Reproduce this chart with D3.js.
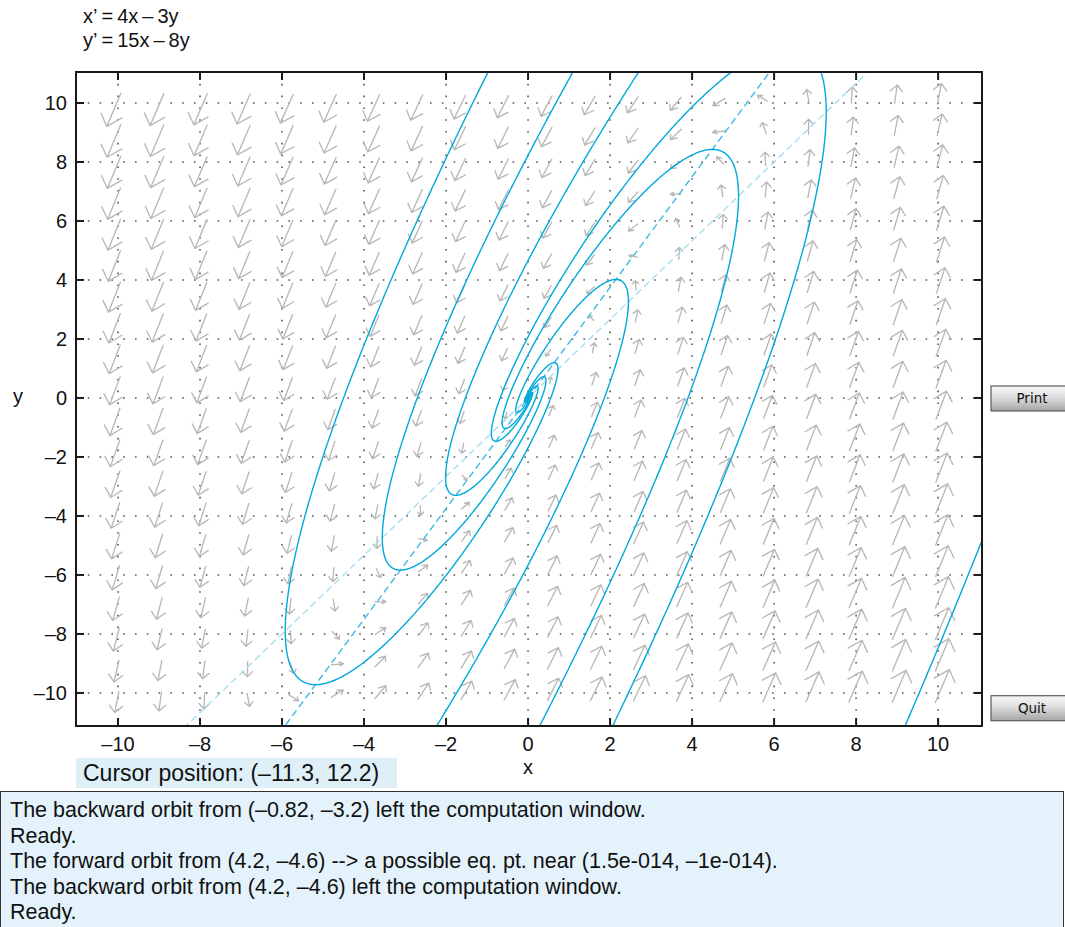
<!DOCTYPE html>
<html><head><meta charset="utf-8">
<script src="https://cdn.jsdelivr.net/npm/d3@7"></script>
<style>
body{margin:0;background:#fff;}
svg{display:block;font-family:"Liberation Sans",Arial,sans-serif;}
</style>
</head><body>
<svg id="chart" width="1065" height="927"></svg>
<script>
// ---- data ----
const coefX = [4, -3];   // x' = 4x - 3y
const coefY = [15, -8];  // y' = 15x - 8y
const equationLines = ["x\u2019\u2009=\u20094x\u2009\u2013\u20093y", "y\u2019\u2009=\u200915x\u2009\u2013\u20098y"];
const xTicks = [-10, -8, -6, -4, -2, 0, 2, 4, 6, 8, 10];
const yTicks = [-10, -8, -6, -4, -2, 0, 2, 4, 6, 8, 10];
const fieldX = [-10, -8.95, -7.89, -6.84, -5.79, -4.74, -3.68, -2.63, -1.58, -0.53, 0.53, 1.58, 2.63, 3.68, 4.74, 5.79, 6.84, 7.89, 8.95, 10];
const fieldY = [-10.1, -9.04, -7.97, -6.91, -5.85, -4.78, -3.72, -2.66, -1.6, -0.53, 0.53, 1.6, 2.66, 3.72, 4.78, 5.85, 6.91, 7.97, 9.04, 10.1];
// initial points of the orbits
const seedX = [-1.0, -3.17, -2.22, 0.29, 4.2, 9.2];
const seedY = [10.98, -5.83, -11.1, -11.1, -4.6, -11.1];
const cursorText = "Cursor position: (\u201311.3, 12.2)";
const messages = [
  "The backward orbit from (\u20130.82, \u20133.2) left the computation window.",
  "Ready.",
  "The forward orbit from (4.2, \u20134.6) --> a possible eq. pt. near (1.5e-014, \u20131e-014).",
  "The backward orbit from (4.2, \u20134.6) left the computation window.",
  "Ready."
];
const buttonLabels = ["Print", "Quit"];
const buttonYs = [0, -10.5];

// ---- layout ----
const svg = d3.select("#chart");
const L = 76, R = 982, T = 72, B = 726;
const x = d3.scaleLinear().domain([-11.024, 11.07]).range([L, R]);
const y = d3.scaleLinear().domain([-11.12, 11.05]).range([B, T]);
const fmt = d => d < 0 ? "\u2013" + Math.abs(d) : String(d);

const defs = svg.append("defs");
defs.append("clipPath").attr("id", "clip").append("rect")
  .attr("x", L).attr("y", T).attr("width", R - L).attr("height", B - T);
const grad = defs.append("linearGradient").attr("id", "btn").attr("x1", 0).attr("y1", 0).attr("x2", 0).attr("y2", 1);
grad.append("stop").attr("offset", "0%").attr("stop-color", "#f7f7f7");
grad.append("stop").attr("offset", "45%").attr("stop-color", "#dedede");
grad.append("stop").attr("offset", "100%").attr("stop-color", "#a4a4a4");

// title equations
svg.selectAll("text.eq").data(equationLines).join("text").attr("class", "eq")
  .attr("x", 83).attr("y", (d, i) => 23 + i * 23.5)
  .attr("font-size", 20).attr("fill", "#111").text(d => d);

// grid
const grid = svg.append("g").attr("stroke", "#555").attr("stroke-width", 1.6).attr("stroke-dasharray", "1.6,10.2");
grid.selectAll("line.gx").data(xTicks).join("line")
  .attr("x1", d => x(d)).attr("x2", d => x(d)).attr("y1", T).attr("y2", B);
grid.selectAll("line.gy").data(yTicks).join("line")
  .attr("y1", d => y(d)).attr("y2", d => y(d)).attr("x1", L).attr("x2", R);

const plot = svg.append("g").attr("clip-path", "url(#clip)");

// direction field arrows
const field = (px, py) => [coefX[0] * px + coefX[1] * py, coefY[0] * px + coefY[1] * py];
const arrowG = plot.append("g").attr("fill", "none").attr("stroke", "#b8b8b8").attr("stroke-width", 1.35)
  .attr("stroke-linecap", "round").attr("stroke-linejoin", "round");
const arrowPts = [];
fieldX.forEach(gx => fieldY.forEach(gy => arrowPts.push([gx, gy])));
const ang = 35 * Math.PI / 180;
arrowG.selectAll("path").data(arrowPts).join("path").attr("d", ([gx, gy]) => {
  const [vx, vy] = field(gx, gy);
  const m = Math.hypot(vx, vy);
  if (m === 0) return null;
  const ux = vx / m, uy = vy / m;
  const len = 0.13 * Math.pow(m, 0.4);
  const tx = gx - 0.2 * len * ux, ty = gy - 0.2 * len * uy;
  const hx = gx + 0.8 * len * ux, hy = gy + 0.8 * len * uy;
  const hl = 0.4 * len;
  const w = s => {
    const c = Math.cos(s * ang), sn = Math.sin(s * ang);
    const bx = -ux, by = -uy;
    return [hx + hl * (bx * c - by * sn), hy + hl * (bx * sn + by * c)];
  };
  const w1 = w(1), w2 = w(-1);
  return `M${x(tx)},${y(ty)}L${x(hx)},${y(hy)}M${x(w1[0])},${y(w1[1])}L${x(hx)},${y(hy)}L${x(w2[0])},${y(w2[1])}`;
});

// nullclines (x'=0 light, y'=0 darker)
const nullLight = [-11.5, 11.5].map(v => [v, -coefX[0] / coefX[1] * v]);
const nullDark = [-11.5, 11.5].map(v => [v, -coefY[0] / coefY[1] * v]);
const line = d3.line().x(d => x(d[0])).y(d => y(d[1]));
plot.append("path").attr("d", line(nullLight)).attr("fill", "none")
  .attr("stroke", "#a9ddf1").attr("stroke-width", 1.4).attr("stroke-dasharray", "7,4");
plot.append("path").attr("d", line(nullDark)).attr("fill", "none")
  .attr("stroke", "#3fb9e4").attr("stroke-width", 1.4).attr("stroke-dasharray", "7,4");

// orbits via RK4 from seeds (forward and backward)
function integrate(x0, y0, dir) {
  const pts = [[x0, y0]];
  let px = x0, py = y0;
  const h = 0.0015 * dir;
  for (let i = 0; i < 6000; i++) {
    const k1 = field(px, py);
    const k2 = field(px + h / 2 * k1[0], py + h / 2 * k1[1]);
    const k3 = field(px + h / 2 * k2[0], py + h / 2 * k2[1]);
    const k4 = field(px + h * k3[0], py + h * k3[1]);
    px += h / 6 * (k1[0] + 2 * k2[0] + 2 * k3[0] + k4[0]);
    py += h / 6 * (k1[1] + 2 * k2[1] + 2 * k3[1] + k4[1]);
    pts.push([px, py]);
    if (Math.abs(px) > 40 || Math.abs(py) > 40) break;
    if (Math.hypot(px, py) < 0.003) break;
  }
  return pts;
}
const orbits = seedX.map((sx, i) => {
  const fwd = integrate(sx, seedY[i], 1);
  const bwd = integrate(sx, seedY[i], -1).reverse();
  return bwd.concat(fwd.slice(1));
});
plot.append("g").selectAll("path").data(orbits).join("path")
  .attr("d", line).attr("fill", "none").attr("stroke", "#00a9db").attr("stroke-width", 1.4);

// frame & ticks
svg.append("rect").attr("x", L).attr("y", T).attr("width", R - L).attr("height", B - T)
  .attr("fill", "none").attr("stroke", "#1a1a1a").attr("stroke-width", 2);
const tk = svg.append("g").attr("stroke", "#1a1a1a").attr("stroke-width", 2);
xTicks.forEach(d => {
  tk.append("line").attr("x1", x(d)).attr("x2", x(d)).attr("y1", B).attr("y2", B - 8);
  tk.append("line").attr("x1", x(d)).attr("x2", x(d)).attr("y1", T).attr("y2", T + 8);
});
yTicks.forEach(d => {
  tk.append("line").attr("y1", y(d)).attr("y2", y(d)).attr("x1", L).attr("x2", L + 8);
  tk.append("line").attr("y1", y(d)).attr("y2", y(d)).attr("x1", R).attr("x2", R - 8);
});
svg.append("g").selectAll("text").data(xTicks).join("text")
  .attr("x", d => x(d)).attr("y", 751).attr("text-anchor", "middle")
  .attr("font-size", 20).attr("fill", "#111").text(fmt);
svg.append("g").selectAll("text").data(yTicks).join("text")
  .attr("x", 67).attr("y", d => y(d) + 7).attr("text-anchor", "end")
  .attr("font-size", 20).attr("fill", "#111").text(fmt);
svg.append("text").attr("x", 528).attr("y", 774).attr("text-anchor", "middle")
  .attr("font-size", 20).attr("fill", "#111").text("x");
svg.append("text").attr("x", 18).attr("y", 403).attr("text-anchor", "middle")
  .attr("font-size", 20).attr("fill", "#111").text("y");

// buttons
buttonLabels.forEach((lab, i) => {
  const by = y(buttonYs[i]);
  svg.append("rect").attr("x", 991).attr("y", by - 12).attr("width", 85).attr("height", 25)
    .attr("fill", "url(#btn)").attr("stroke", "#5a5a5a").attr("stroke-width", 1.2);
  svg.append("text").attr("x", 1032).attr("y", by + 5).attr("text-anchor", "middle")
    .attr("font-family", "DejaVu Sans").attr("font-size", 13.5).attr("fill", "#111").text(lab);
});

// cursor position box
svg.append("rect").attr("x", 76).attr("y", 758).attr("width", 321).attr("height", 30).attr("fill", "#dfeff8");
svg.append("text").attr("x", 83).attr("y", 781).attr("font-size", 23).attr("fill", "#111").text(cursorText);

// message box
svg.append("rect").attr("x", 0.5).attr("y", 791.5).attr("width", 1063).attr("height", 145)
  .attr("fill", "#e4f3fb").attr("stroke", "#333").attr("stroke-width", 1);
svg.append("g").selectAll("text").data(messages).join("text")
  .attr("x", 10).attr("y", (d, i) => 817 + i * 25.5)
  .attr("font-size", 21.5).attr("fill", "#111").text(d => d);
</script>
</body></html>
